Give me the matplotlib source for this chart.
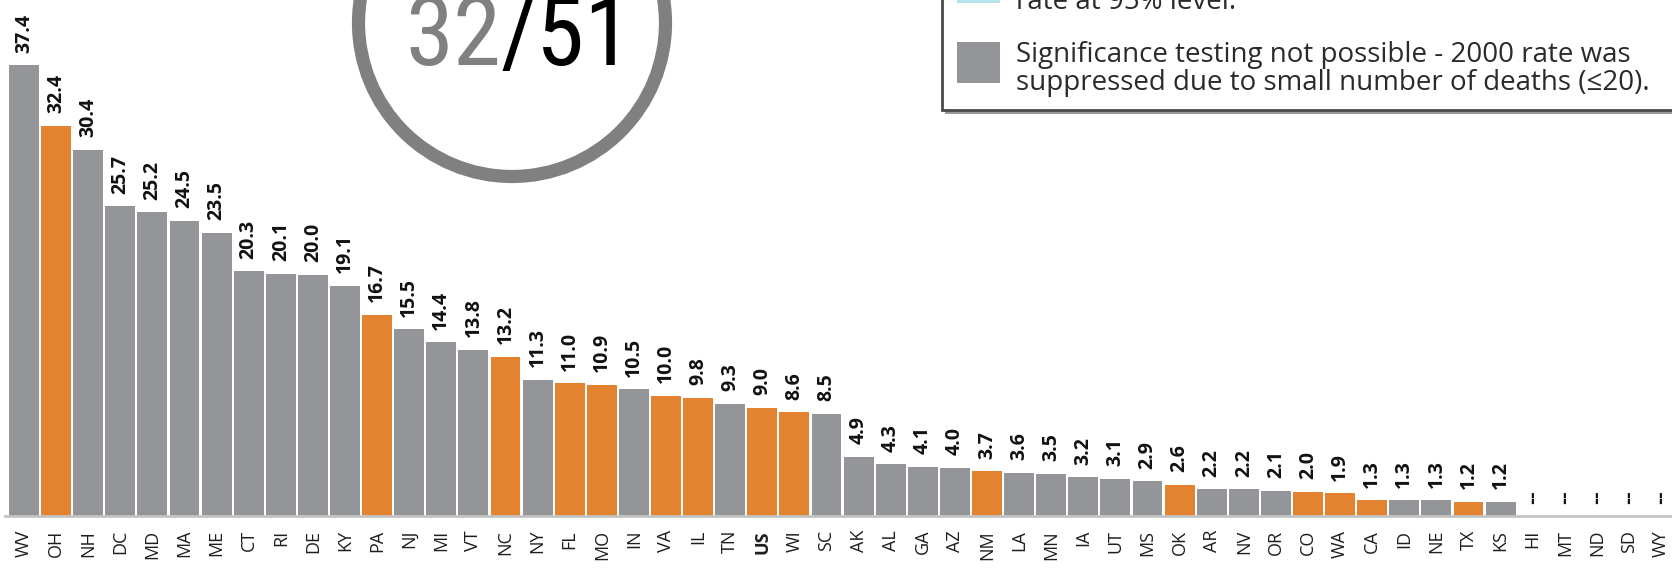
import matplotlib
matplotlib.use("Agg")
import matplotlib.pyplot as plt
from matplotlib import font_manager
from matplotlib.patches import Rectangle, Circle
from matplotlib.transforms import IdentityTransform
import numpy as np

W, H = 1672, 569

# state death rates per 100,000 (None = suppressed)
states = ["WV", "OH", "NH", "DC", "MD", "MA", "ME", "CT", "RI", "DE", "KY", "PA",
          "NJ", "MI", "VT", "NC", "NY", "FL", "MO", "IN", "VA", "IL", "TN", "US",
          "WI", "SC", "AK", "AL", "GA", "AZ", "NM", "LA", "MN", "IA", "UT", "MS",
          "OK", "AR", "NV", "OR", "CO", "WA", "CA", "ID", "NE", "TX", "KS", "HI",
          "MT", "ND", "SD", "WY"]
rates = [37.4, 32.4, 30.4, 25.7, 25.2, 24.5, 23.5, 20.3, 20.1, 20.0, 19.1, 16.7,
         15.5, 14.4, 13.8, 13.2, 11.3, 11.0, 10.9, 10.5, 10.0, 9.8, 9.3, 9.0,
         8.6, 8.5, 4.9, 4.3, 4.1, 4.0, 3.7, 3.6, 3.5, 3.2, 3.1, 2.9,
         2.6, 2.2, 2.2, 2.1, 2.0, 1.9, 1.3, 1.3, 1.3, 1.2, 1.2, None,
         None, None, None, None]
# states with a significant increase (orange)
increased = ["OH", "PA", "NC", "FL", "MO", "VA", "IL", "US", "WI", "NM", "OK",
             "CO", "WA", "CA", "TX"]
count_up, count_all = "32", "51"

GRAY = "#939598"
ORANGE = "#e3832f"

plt.rcParams["font.family"] = ["Open Sans", "DejaVu Sans"]

# pick a narrow face for the big number if one is installed
installed = {f.name for f in font_manager.fontManager.ttflist}
narrow = None
for name in ["Roboto Condensed", "Liberation Sans Narrow", "Open Sans Condensed",
             "Noto Sans Condensed", "DejaVu Sans Condensed"]:
    if name in installed:
        narrow = name
        break
if narrow:
    big_font = dict(family=[narrow, "DejaVu Sans"], fontsize=70)
else:
    big_font = dict(family=["Roboto", "DejaVu Sans"], fontsize=58)

fig = plt.figure(figsize=(W / 100, H / 100), dpi=100)

def fx(px):
    return px / W

def fy(py):
    return 1 - py / H

# axes placed so that bar centres land where the reference has them
base_px = 516
ax = fig.add_axes([fx(5), fy(base_px), fx(W) - fx(5), 1 - fy(base_px)])
step = 32.1
ax.set_xlim((5 - 24) / step, (W - 24) / step)
ax.set_ylim(0, base_px / 12.05)

x = np.arange(len(states))
heights = [r if r is not None else 0 for r in rates]
colors = [ORANGE if s in increased else GRAY for s in states]
ax.bar(x, heights, width=0.93, color=colors, edgecolor="none")

for i, r in enumerate(rates):
    if r is not None:
        ax.annotate(f"{r:.1f}", (i, heights[i]), xytext=(0, 9),
                    textcoords="offset points", rotation=90, ha="center",
                    va="bottom", fontsize=14, fontweight="bold", color="#111111")
    else:
        ax.annotate("--", (i, 0), xytext=(0, 9), textcoords="offset points",
                    rotation=90, ha="center", va="bottom", fontsize=12,
                    fontweight="bold", family="DejaVu Sans", color="#111111")

ax.set_xticks(x)
ax.set_xticklabels(states, rotation=90, fontsize=13, color="#1e1e1e")
for lbl in ax.get_xticklabels():
    if lbl.get_text() == "US":
        lbl.set_fontweight("bold")
ax.tick_params(axis="x", length=0, pad=10)
ax.set_yticks([])
for side in ["top", "left", "right"]:
    ax.spines[side].set_visible(False)
ax.spines["bottom"].set_color("#c4c4c4")
ax.spines["bottom"].set_linewidth(2)

# big "32/51" circle at the top (pixel coordinates)
circ = Circle((512, H - 23), 153.5, transform=IdentityTransform(),
              fill=False, edgecolor="#808080", linewidth=9.5)
fig.patches.append(circ)

t1 = fig.text(fx(405), fy(65), count_up, color="#808080", ha="left",
              va="baseline", **big_font)
fig.canvas.draw()
bb = t1.get_window_extent()
fig.text(bb.x1 / W, fy(65), "/" + count_all, color="black", ha="left",
         va="baseline", **big_font)

# legend box (partly cut by the top and right edges)
shadow = Rectangle((fx(945), fy(114)), 1, fy(0) - fy(114) + 0.1,
                   transform=fig.transFigure, facecolor="#9a9a9a", edgecolor="none")
box = Rectangle((fx(942), fy(110)), 1, fy(0) - fy(110) + 0.1,
                transform=fig.transFigure, facecolor="white", edgecolor="#4a4a4a",
                linewidth=2)
fig.patches.extend([shadow, box])
fig.patches.append(Rectangle((fx(957), fy(3)), fx(43), fy(0) - fy(3) + 0.05,
                             transform=fig.transFigure, facecolor="#b6e2ec",
                             edgecolor="none"))
fig.patches.append(Rectangle((fx(957), fy(83)), fx(43), fy(42) - fy(83),
                             transform=fig.transFigure, facecolor=GRAY,
                             edgecolor="none"))
legend_font = dict(fontsize=20, color="#2a2a2a", ha="left", va="baseline")
fig.text(fx(1016), fy(9), "rate at 95% level.", **legend_font)
fig.text(fx(1016), fy(62), "Significance testing not possible - 2000 rate was", **legend_font)
fig.text(fx(1016), fy(90), "suppressed due to small number of deaths (≤20).", **legend_font)

fig.savefig("out.png", dpi=100)
